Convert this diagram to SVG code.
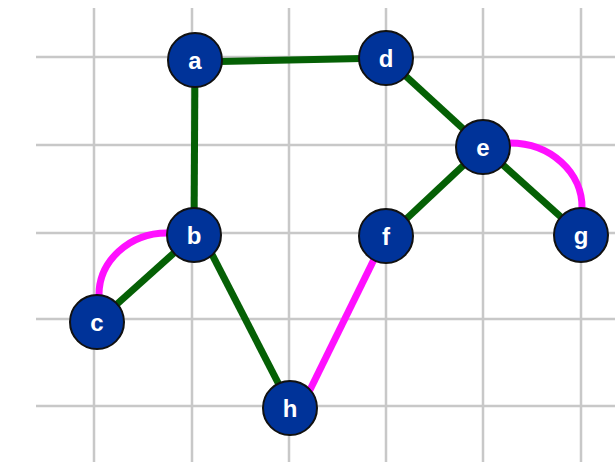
<svg xmlns="http://www.w3.org/2000/svg" width="615" height="468" viewBox="0 0 615 468">
<style>
.grid line{stroke:#c8c8c8;stroke-width:2.5}
.g{stroke:#056005;stroke-width:7;fill:none;stroke-linecap:butt}
.m{stroke:#ff10ff;stroke-width:7;fill:none}
.node circle{fill:#003399;stroke:#111;stroke-width:2}
.node text{fill:#fff;font-family:"Liberation Sans",Arial,sans-serif;font-weight:bold;font-size:24px;text-anchor:middle}
</style>
<rect width="615" height="468" fill="#fff"/>
<g class="grid">
<line x1="94" y1="8" x2="94" y2="462"/>
<line x1="192" y1="8" x2="192" y2="462"/>
<line x1="289" y1="8" x2="289" y2="462"/>
<line x1="386" y1="8" x2="386" y2="462"/>
<line x1="483" y1="8" x2="483" y2="462"/>
<line x1="581" y1="8" x2="581" y2="462"/>
<line x1="36" y1="57" x2="615" y2="57"/>
<line x1="36" y1="145" x2="615" y2="145"/>
<line x1="36" y1="233" x2="615" y2="233"/>
<line x1="36" y1="319" x2="615" y2="319"/>
<line x1="36" y1="406" x2="615" y2="406"/>
</g>
<g id="connectors">
<line class="g" x1="195" y1="62" x2="386" y2="58"/>
<line class="g" x1="195" y1="60" x2="194" y2="235"/>
<line class="g" x1="386" y1="58" x2="483" y2="147"/>
<line class="g" x1="483" y1="147" x2="387" y2="237"/>
<line class="g" x1="483" y1="147" x2="581" y2="235"/>
<line class="g" x1="194" y1="235" x2="97" y2="322"/>
<line class="g" x1="202" y1="235" x2="290" y2="406"/>
<path class="m" d="M167 233 A68 62 0 0 0 99 296"/>
<path class="m" d="M510 143 A72 64 0 0 1 582 208"/>
<line class="m" x1="385" y1="237" x2="306" y2="398"/>
</g>
<g id="a" class="node"><circle cx="195" cy="60" r="27"/><text x="195" y="69">a</text></g>
<g id="d" class="node"><circle cx="386" cy="58" r="27"/><text x="386" y="67">d</text></g>
<g id="e" class="node"><circle cx="483" cy="147" r="27"/><text x="483" y="156">e</text></g>
<g id="b" class="node"><circle cx="194" cy="235" r="27"/><text x="194" y="244">b</text></g>
<g id="f" class="node"><circle cx="386" cy="236" r="27"/><text x="386" y="245">f</text></g>
<g id="g" class="node"><circle cx="581" cy="235" r="27"/><text x="581" y="244">g</text></g>
<g id="c" class="node"><circle cx="97" cy="322" r="27"/><text x="97" y="331">c</text></g>
<g id="h" class="node"><circle cx="290" cy="408" r="27"/><text x="290" y="417">h</text></g>
</svg>
